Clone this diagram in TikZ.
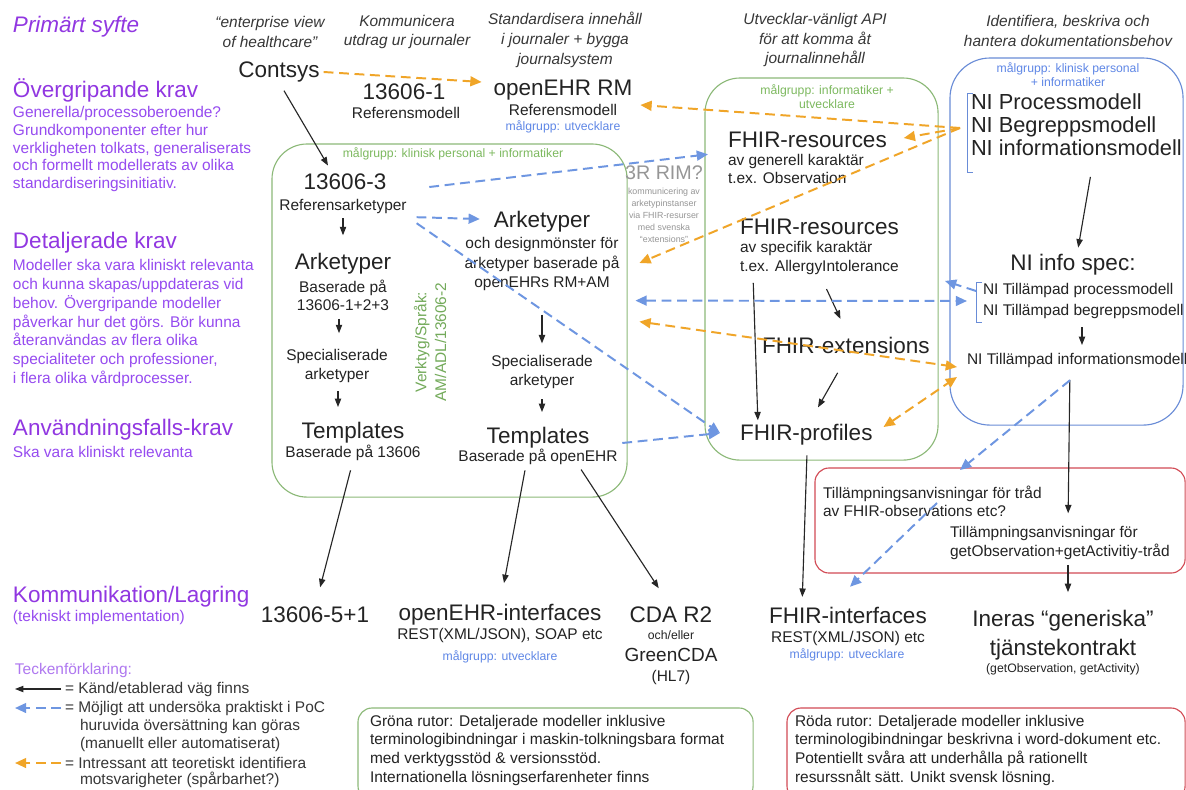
\documentclass[tikz,border=0pt]{standalone}
\usepackage{fontspec}
\setmainfont{Liberation Sans}
\usetikzlibrary{arrows.meta,calc}
\definecolor{txt}{RGB}{35,35,35}
\definecolor{hdr}{RGB}{55,55,55}
\definecolor{purpH}{RGB}{145,55,225}
\definecolor{purpS}{RGB}{150,75,240}
\definecolor{purpL}{RGB}{175,120,240}
\definecolor{gline}{RGB}{140,185,120}
\definecolor{gtxt}{RGB}{125,185,95}
\definecolor{gvert}{RGB}{115,170,90}
\definecolor{blline}{RGB}{105,140,215}
\definecolor{bltxt}{RGB}{95,135,230}
\definecolor{rline}{RGB}{210,75,85}
\definecolor{bldash}{RGB}{110,150,225}
\definecolor{ordash}{RGB}{240,165,40}
\definecolor{rimgrey}{RGB}{150,150,150}
\tikzset{
  every node/.style={inner sep=0pt, outer sep=0pt, text=txt},
  fbig/.style={font=\fontsize{16}{19}\selectfont},
  fbody/.style={font=\fontsize{11}{13}\selectfont},
  fsmall/.style={font=\fontsize{8.7}{10}\selectfont},
  colhead/.style={font=\fontsize{11}{14}\selectfont\itshape, text=hdr, align=center},
  purpHead/.style={font=\fontsize{16}{19}\selectfont, text=purpH, anchor=west},
  purpSub/.style={font=\fontsize{11}{12.6}\selectfont, text=purpS, anchor=west, align=left},
  legt/.style={font=\fontsize{11}{13}\selectfont, text=hdr, anchor=west},
  blk/.style={draw=black!85, line width=0.8pt, -{Triangle[length=6pt,width=4.5pt]}},
  bdash/.style={draw=bldash, line width=1.4pt, dash pattern=on 7pt off 4pt, -{Triangle[length=8pt,width=7pt]}},
  bdash2/.style={bdash, {Triangle[length=8pt,width=7pt]}-{Triangle[length=8pt,width=7pt]}},
  odash/.style={draw=ordash, line width=1.4pt, dash pattern=on 7pt off 4pt, -{Triangle[length=8pt,width=7pt]}},
  odash2/.style={odash, {Triangle[length=8pt,width=7pt]}-{Triangle[length=8pt,width=7pt]}},
  gboxs/.style={draw=gline, line width=0.8pt, rounded corners=0.875cm, anchor=north west},
  bboxs/.style={draw=blline, line width=0.8pt, rounded corners=1cm, anchor=north west},
  rboxs/.style={draw=rline, line width=0.8pt, rounded corners=0.35cm, anchor=north west},
  gnotes/.style={draw=gline, line width=0.8pt, rounded corners=0.35cm, anchor=north west},
  brk/.style={draw=blline, line width=0.6pt},
}
\begin{document}
\begin{tikzpicture}[x=0.025cm,y=-0.025cm]
\useasboundingbox (0,0) rectangle (1186,790);
\fill[white] (0,0) rectangle (1186,790);

% ---------- boxes ----------
\node[gboxs, minimum width=8.875cm, minimum height=8.825cm] (lbox) at (272,144) {};
\node[gboxs, minimum width=5.825cm, minimum height=9.55cm] (rgbox) at (705,78) {};
\node[bboxs, minimum width=5.825cm, minimum height=9.175cm] (blbox) at (950,58) {};
\node[rboxs, minimum width=9.25cm, minimum height=2.625cm] (redbox) at (815,468) {};
\node[gnotes, minimum width=9.875cm, minimum height=2.3cm] (gnote) at (358,708) {};
\node[rboxs, minimum width=9.95cm, minimum height=2.3cm] (rnote) at (787,708) {};

% brackets
\draw[brk] (973,93) -- (967,93) -- (967,172) -- (973,172);
\draw[brk] (982,282) -- (976,282) -- (976,322) -- (982,322);

% ---------- left column ----------
\node[purpHead, font=\fontsize{16}{19}\selectfont\itshape] (prim) at (13,27) {Primärt syfte};
\node[purpHead] (ov) at (13,90) {Övergripande krav};
\node[purpSub] (ovs) at (13,149) {Generella/processoberoende?\\Grundkomponenter efter hur\\verkligheten tolkats, generaliserats\\och formellt modellerats av olika\\standardiseringsinitiativ.};
\node[purpHead] (det) at (13,243) {Detaljerade krav};
\node[purpSub, font=\fontsize{11}{13.4}\selectfont] (dets) at (13,323) {Modeller ska vara kliniskt relevanta\\och kunna skapas/uppdateras vid\\behov. Övergripande modeller\\påverkar hur det görs. Bör kunna\\återanvändas av flera olika\\specialiteter och professioner,\\i flera olika vårdprocesser.};
\node[purpHead] (anv) at (13,430) {Användningsfalls-krav};
\node[purpSub] (anvs) at (13,452) {Ska vara kliniskt relevanta};
\node[purpHead] (komm) at (13,597) {Kommunikation/Lagring};
\node[purpSub] (komms) at (13,617) {(tekniskt implementation)};

% legend
\node[purpSub, text=purpL] (leg) at (15,670) {Teckenförklaring:};
\node[legt] (l1) at (65,689) {= Känd/etablerad väg finns};
\node[legt] (l2) at (65,708) {= Möjligt att undersöka praktiskt i PoC};
\node[legt] (l2b) at (80,726) {huruvida översättning kan göras};
\node[legt] (l2c) at (80,744) {(manuellt eller automatiserat)};
\node[legt] (l3) at (65,763) {= Intressant att teoretiskt identifiera};
\node[legt] (l3b) at (80,780) {motsvarigheter (spårbarhet?)};
\draw[blk] ($(l1.west)+(-4,0)$) -- ($(l1.west)+(-50,0)$);
\draw[bdash] ($(l2.west)+(-4,0)$) -- ($(l2.west)+(-50,0)$);
\draw[odash] ($(l3.west)+(-4,0)$) -- ($(l3.west)+(-50,0)$);

% ---------- column headings ----------
\node[colhead] (h1) at (270,32) {“enterprise view\\of healthcare”};
\node[colhead] (h2) at (407,32) {Kommunicera\\utdrag ur journaler};
\node[colhead] (h3) at (565,40) {Standardisera innehåll\\i journaler + bygga\\journalsystem};
\node[colhead] (h4) at (815,40) {Utvecklar-vänligt API\\för att komma åt\\journalinnehåll};
\node[colhead] (h5) at (1068,31) {Identifiera, beskriva och\\hantera dokumentationsbehov};

% ---------- top row ----------
\node[fbig] (contsys) at (279,72) {Contsys};
\node[fbig] (iso1) at (404,92) {13606-1};
\node[fbody] (iso1s) at (406,113) {Referensmodell};
\node[fbig] (rm) at (563,90) {openEHR RM};
\node[fbody] (rms) at (563,110) {Referensmodell};
\node[fsmall, text=bltxt] (rmmg) at (563,127) {målgrupp: utvecklare};

% ---------- left green box ----------
\node[fsmall, text=gtxt] (lbmg) at (453,154) {målgrupp: klinisk personal + informatiker};
\node[fbig] (iso3) at (345,182) {13606-3};
\node[fbody] (refark) at (343,206) {Referensarketyper};
\node[fbig] (ark1) at (343,264) {Arketyper};
\node[fbody, align=center, font=\fontsize{11}{12.8}\selectfont] (ark1s) at (343,295) {Baserade på\\13606-1+2+3};
\node[fbody, align=center, font=\fontsize{11}{13.4}\selectfont] (spec1) at (337,366) {Specialiserade\\arketyper};
\node[fbig] (tpl1) at (353,433) {Templates};
\node[fbody] (tpl1s) at (353,453) {Baserade på 13606};
\node[rotate=90, font=\fontsize{11}{14}\selectfont, text=gvert, align=center] (verk) at (430,342) {Verktyg/Språk:\\AM/ADL/13606-2};
\node[fbig] (ark2) at (542,222) {Arketyper};
\node[fbody, align=center, font=\fontsize{11}{13.8}\selectfont] (ark2s) at (542,264) {och designmönster för\\arketyper baserade på\\openEHRs RM+AM};
\node[fbody, align=center, font=\fontsize{11}{13.4}\selectfont] (spec2) at (542,372) {Specialiserade\\arketyper};
\node[fbig] (tpl2) at (538,438) {Templates};
\node[fbody] (tpl2s) at (538,457) {Baserade på openEHR};

% 3R RIM
\node[font=\fontsize{14}{16}\selectfont, text=rimgrey] (rim) at (664,173) {3R RIM?};
\node[font=\fontsize{6.3}{8.5}\selectfont, text=rimgrey, align=center] (rims) at (664,215) {kommunicering av\\arketypinstanser\\via FHIR-resurser\\med svenska\\“extensions”};

% ---------- right green box ----------
\node[fsmall, text=gtxt, align=center] (rgmg) at (827,97) {målgrupp: informatiker +\\utvecklare};
\node[fbig, anchor=west] (fr1) at (728,140) {FHIR-resources};
\node[fbody, anchor=west, align=left, font=\fontsize{11}{12.8}\selectfont] (fr1s) at (728,169) {av generell karaktär\\t.ex. Observation};
\node[fbig, anchor=west] (fr2) at (740,227) {FHIR-resources};
\node[fbody, anchor=west, align=left, font=\fontsize{11}{14}\selectfont] (fr2s) at (740,258) {av specifik karaktär\\t.ex. AllergyIntolerance};
\node[fbig, anchor=west] (fext) at (762,345) {FHIR-extensions};
\node[fbig, anchor=west] (fprof) at (740,435) {FHIR-profiles};

% ---------- blue box ----------
\node[fsmall, text=bltxt, align=center] (bbmg) at (1068,75) {målgrupp: klinisk personal\\+ informatiker};
\node[anchor=west, align=left, font=\fontsize{15.5}{16.4}\selectfont] (nim) at (971,125) {NI Processmodell\\NI Begreppsmodell\\NI informationsmodell};
\node[fbig] (nispec) at (1073,265) {NI info spec:};
\node[anchor=west, align=left, font=\fontsize{11}{15.4}\selectfont] (nit) at (983,301) {NI Tillämpad processmodell\\NI Tillämpad begreppsmodell};
\node[fbody, anchor=west] (niti) at (967,360) {NI Tillämpad informationsmodell};

% ---------- red box ----------
\node[anchor=west, align=left, font=\fontsize{11}{12.8}\selectfont] (ta1) at (823,501) {Tillämpningsanvisningar för tråd\\av FHIR-observations etc?};
\node[anchor=west, align=left, font=\fontsize{11}{14}\selectfont] (ta2) at (950,543) {Tillämpningsanvisningar för\\getObservation+getActivitiy-tråd};

% ---------- bottom row ----------
\node[fbig] (iso5) at (315,615) {13606-5+1};
\node[fbig] (oei) at (500,615) {openEHR-interfaces};
\node[fbody] (oeis) at (500,635) {REST(XML/JSON), SOAP etc};
\node[fsmall, text=bltxt] (oeimg) at (500,657) {målgrupp: utvecklare};
\node[fbig] (cda) at (671,615) {CDA R2};
\node[fsmall] (cdao) at (671,635) {och/eller};
\node[font=\fontsize{13.5}{16}\selectfont] (gcda) at (671,655) {GreenCDA};
\node[fbody] (hl7) at (671,677) {(HL7)};
\node[fbig] (fint) at (848,615) {FHIR-interfaces};
\node[fbody] (fints) at (848,638) {REST(XML/JSON) etc};
\node[fsmall, text=bltxt] (fintmg) at (847,655) {målgrupp: utvecklare};
\node[align=center, font=\fontsize{16}{21}\selectfont] (inera) at (1063,635) {Ineras “generiska”\\tjänstekontrakt};
\node[fsmall] (ineras) at (1063,669) {(getObservation, getActivity)};

% notes
\node[anchor=north west, align=left, font=\fontsize{11}{13.3}\selectfont] (gnt) at (370,715) {Gröna rutor: Detaljerade modeller inklusive\\terminologibindningar i maskin-tolkningsbara format\\med verktygsstöd \& versionsstöd.\\Internationella lösningserfarenheter finns};
\node[anchor=north west, align=left, font=\fontsize{11}{13.3}\selectfont] (rnt) at (795,715) {Röda rutor: Detaljerade modeller inklusive\\terminologibindningar beskrivna i word-dokument etc.\\Potentiellt svåra att underhålla på rationellt\\resurssnålt sätt. Unikt svensk lösning.};

% ---------- black arrows ----------
\draw[blk, shorten <=7pt, shorten >=7pt] (contsys.south) -- ($(iso3.north)+(-12,0)$);
\draw[blk, shorten <=3.5pt, shorten >=13pt] (refark.south) -- (ark1.north);
\draw[blk, shorten <=6pt, shorten >=11.5pt] ($(ark1s.south)+(-4,0)$) -- ($(spec1.north)+(2,0)$);
\draw[blk, shorten <=6pt, shorten >=11pt] ($(spec1.south)+(1,0)$) -- ($(spec1.south |- tpl1.north)+(1,0)$);
\draw[blk, shorten <=17pt, shorten >=8.5pt] (ark2s.south) -- (spec2.north);
\draw[blk, shorten <=7.5pt, shorten >=11pt] (spec2.south) -- (spec2.south |- tpl2.north);
\draw[blk, shorten <=7pt, shorten >=14.5pt] (tpl1s.south) -- (iso5.north);
\draw[blk, shorten <=4pt, shorten >=15.5pt] ($(tpl2s.south)+(-12,0)$) -- (oei.north);
\draw[blk, shorten <=4pt, shorten >=16pt] ($(tpl2s.south)+(40,0)$) -- (cda.north);
\draw[blk, shorten <=5.5pt, shorten >=3pt] ($(fr2s.south west)+(13,0)$) -- ($(fprof.north west)+(18,0)$);
\draw[blk, shorten <=11pt, shorten >=14pt] ($(fr2s.south west)+(80,0)$) -- ($(fext.north)+(3,0)$);
\draw[blk, shorten <=16pt, shorten >=14pt] ($(fext.south)+(3,0)$) -- ($(fprof.north)+(2,0)$);
\draw[blk, shorten <=7pt, shorten >=7pt] ($(fprof.south)+(1,0)$) -- ($(fint.north)+(-46,0)$);
\draw[blk, shorten <=15pt, shorten >=5pt] ($(nim.south west)+(123,0)$) -- ($(nispec.north)+(4,0)$);
\draw[blk, shorten <=6pt, shorten >=5.5pt] ($(nit.south west)+(99,0)$) -- ($(niti.north west)+(115,0)$);
\draw[blk, shorten <=9pt, shorten >=9pt] ($(niti.south west)+(103,0)$) -- ($(ta2.north west)+(118,0)$);
\draw[blk, shorten <=3.5pt, shorten >=12.5pt] ($(ta2.south west)+(118,0)$) -- ($(inera.north)+(5,0)$);

% ---------- blue dashed ----------
\draw[bdash] ($(iso3.east)+(43,5)$) -- ($(fr1s.north west)+(-20,0)$);
\draw[bdash] ($(refark.south east)+(10,4)$) -- ($(ark2.west)+(-14,-3)$);
\draw[bdash] ($(refark.south east)+(10,10)$) -- ($(fprof.west)+(-20,-2)$);
\draw[bdash] ($(tpl2.east)+(33,5)$) -- ($(fprof.west)+(-20,-2)$);
\draw[bdash2] ($(ark2s.south east)+(16,10)$) -- ($(nit.west)+(-16,0)$);
\draw[bdash] ($(nit.north west)+(-7,8)$) -- ($(nit.north west)+(-38,-2)$);
\draw[bdash] ($(niti.south west)+(103,13)$) -- ($(redbox.north west)+(145,2)$);
\draw[bdash] ($(redbox.north west)+(122,35)$) -- ($(fint.north)+(2,-20)$);

% ---------- orange dashed ----------
\coordinate (nimb) at (960,128);
\draw[odash] ($(contsys.east)+(4,0)$) -- ($(rm.west)+(-12,-8)$);
\draw[odash] (nimb) -- ($(rm.east)+(8,15)$);
\draw[odash] (nimb) -- ($(fr1.east)+(17,-2)$);
\draw[odash] (nimb) -- ($(ark2s.east)+(20,-1)$);
\draw[odash2] ($(ark2s.south east)+(20,31)$) -- ($(niti.west)+(-10,7)$);
\draw[odash2] ($(fprof.east)+(11,-8)$) -- ($(niti.west)+(-10,17)$);
\end{tikzpicture}
\end{document}
